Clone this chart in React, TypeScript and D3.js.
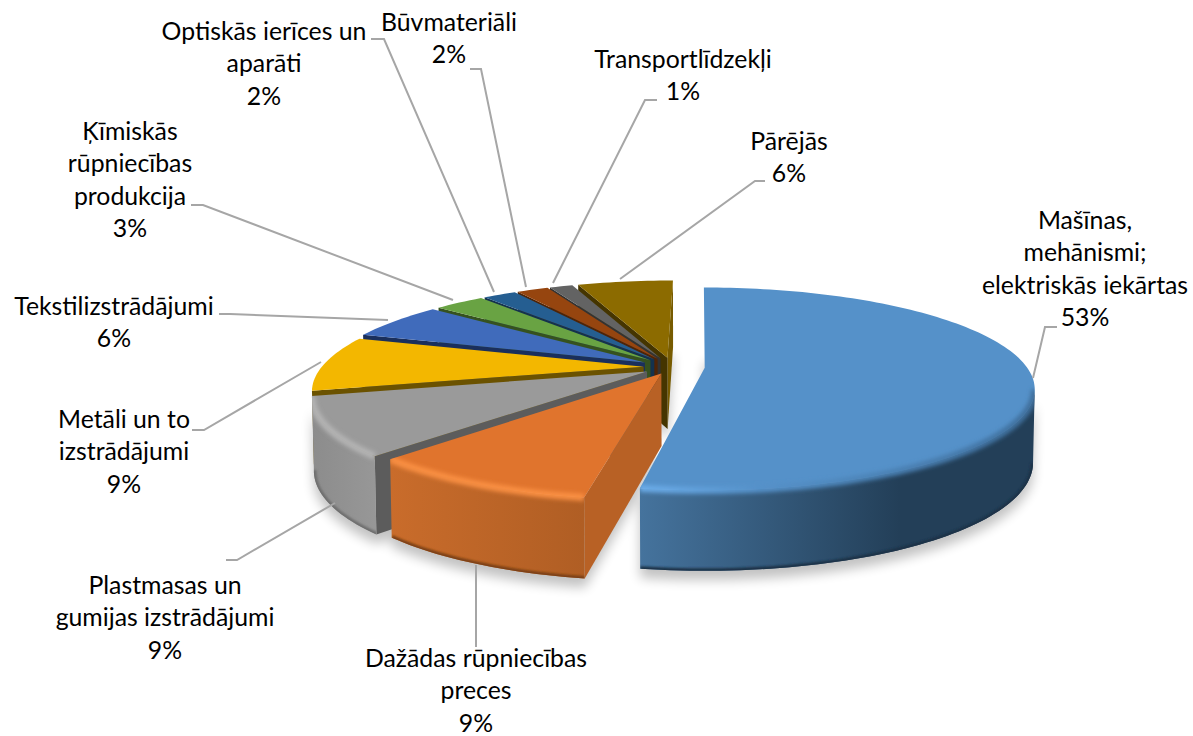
import React from "react";
import * as d3 from "d3";

const categories = [
  "Mašīnas, mehānismi; elektriskās iekārtas",
  "Dažādas rūpniecības preces",
  "Plastmasas un gumijas izstrādājumi",
  "Metāli un to izstrādājumi",
  "Tekstilizstrādājumi",
  "Ķīmiskās rūpniecības produkcija",
  "Optiskās ierīces un aparāti",
  "Būvmateriāli",
  "Transportlīdzekļi",
  "Pārējās",
];
// shares, the labels round them
const shares = [0.526, 0.094, 0.092, 0.088, 0.059, 0.03, 0.02, 0.019, 0.014, 0.058];
const explodes = [0.1, 0.075, 0.09, 0.09, 0.1, 0.1, 0.1, 0.1, 0.1, 0.1];

const topColors = ["#5591c9", "#e0742d", "#9a9a9a", "#f3b700", "#406bbb", "#69a343", "#255e91", "#96450f", "#636363", "#8c6b00"];
const edgeColors = ["#2f5578", "#b86125", "#5c5c5c", "#6b5200", "#1a2f5c", "#36521f", "#14324e", "#4f2406", "#333333", "#453500"];
const wallStops = [
  ["#45739d", "#233f58"],
  ["#c96c2b", "#b05e24"],
  ["#8c8c8c", "#979797"],
  ["#f0b400", "#d9a200"],
  ["#37609f", "#37609f"],
  ["#5a8c39", "#5a8c39"],
  ["#1f4f7a", "#1f4f7a"],
  ["#803b0c", "#803b0c"],
  ["#555555", "#555555"],
  ["#775b00", "#775b00"],
];
const bevelColors = ["#6cadea", "#f98f43", "#b4b4b4", "#ffc819", "#4f7fd6", "#7bbd4e", "#2f74b0", "#b5540f", "#7a7a7a", "#a88000"];
const bottomColors = ["#1c3247", "#7a3f12", "#6e6e6e", "#8a6a00", "#1a2f5c", "#36521f", "#14324e", "#4f2406", "#333333", "#453500"];

const labelLines = [
  ["Mašīnas,", "mehānismi;", "elektriskās iekārtas"],
  ["Dažādas rūpniecības", "preces"],
  ["Plastmasas un", "gumijas izstrādājumi"],
  ["Metāli un to", "izstrādājumi"],
  ["Tekstilizstrādājumi"],
  ["Ķīmiskās", "rūpniecības", "produkcija"],
  ["Optiskās ierīces un", "aparāti"],
  ["Būvmateriāli"],
  ["Transportlīdzekļi"],
  ["Pārējās"],
];
const labelX = [1085, 476, 165, 124, 114, 130, 264, 449, 683, 789];
const labelY = [221, 659, 586, 420, 307, 132, 32, 23, 60, 142];
const leaders = [
  [[1033, 378], [1045, 327], [1057, 327]],
  [[476, 565], [476, 647]],
  [[335, 503], [237, 560], [226, 560]],
  [[321, 362], [204, 430], [192, 430]],
  [[388, 320], [230, 314], [219, 314]],
  [[453, 300], [203, 205], [191, 205]],
  [[494, 292], [384, 39], [371, 39]],
  [[526, 287], [481, 69], [470, 69]],
  [[553, 283], [645, 100], [657, 100]],
  [[620, 279], [755, 181], [765, 181]],
];

const width = 1193, height = 736;
// vx is where the radial edges vanish, cx the pie centre on screen
const vx = 700, cx = 672.6, cy = 367, rx = 322, ry = 96.7, persp = 0.208;
const lineStep = 32.4, fontSize = 24.8;

const pct = d3.format(".0%");
const pie = d3.pie<number>().sort(null).value(d => d);
const arcs = pie(shares);
const pathOf = d3.line();

type Pt = [number, number];

function top(i: number, mid: number, r: number, a: number): Pt {
  const e = explodes[i];
  const u = e * Math.sin(mid) + r * Math.sin(a) + (cx - vx) / rx;
  const v = e * Math.cos(mid) + r * Math.cos(a);
  const w = 1 + persp * v;
  return [vx + rx * u / w, cy - ry * v / w];
}

function drop(i: number, mid: number, r: number, a: number): Pt {
  const v = explodes[i] * Math.cos(mid) + r * Math.cos(a);
  const w = 1 + persp * v;
  const [x, y] = top(i, mid, r, a);
  return [vx + (x - vx) * 0.995, y + 40 + 32 / w];
}

function rim(f: typeof top, i: number, mid: number, a0: number, a1: number): Pt[] {
  const n = Math.max(2, Math.ceil((a1 - a0) * 40));
  return d3.range(n + 1).map(k => f(i, mid, 1, a0 + (a1 - a0) * k / n));
}

export default function App() {
  const slices = arcs.map((d, i) => {
    const mid = (d.startAngle + d.endAngle) / 2;
    const a0 = d.startAngle, a1 = d.endAngle;
    const apex = top(i, mid, 0, 0), apexB = drop(i, mid, 0, 0);
    const rimTop = rim(top, i, mid, a0, a1);
    const rimBot = rim(drop, i, mid, a0, a1);
    // only the part of the rim that runs right to left faces the viewer
    const from = d3.greatestIndex(rimTop, p => p[0]);
    const to = d3.leastIndex(rimTop, p => p[0]);
    const hasFront = to > from;
    const frontTop = rimTop.slice(from, to + 1);
    const frontBot = rimBot.slice(from, to + 1);
    return {
      i, mid, a0, a1,
      topPath: pathOf([apex, ...rimTop])! + "Z",
      startWall: pathOf([apex, top(i, mid, 1, a0), drop(i, mid, 1, a0), apexB])! + "Z",
      endWall: pathOf([apex, top(i, mid, 1, a1), drop(i, mid, 1, a1), apexB])! + "Z",
      outerPath: hasFront ? pathOf([...frontTop, ...frontBot.slice().reverse()])! + "Z" : null,
      footprint: pathOf([apexB, ...rimBot])! + "Z",
      frontTop: hasFront ? pathOf(frontTop) : null,
      frontBot: hasFront ? pathOf(frontBot) : null,
      xMin: d3.min(rimTop, p => p[0])!,
      xMax: d3.max(rimTop, p => p[0])!,
    };
  });
  const backToFront = slices.slice().reverse();
  const lastIndex = slices.length - 1;

  return (
    <svg width={width} height={height} style={{ position: "absolute", left: 0, top: 0 }}
      fontFamily="Lato, 'Open Sans', sans-serif">
      <defs>
        <filter id="shadow" x="-20%" y="-20%" width="140%" height="140%"><feGaussianBlur stdDeviation="6" /></filter>
        <filter id="soft" x="-10%" y="-30%" width="120%" height="160%"><feGaussianBlur stdDeviation="2" /></filter>
        <filter id="softer" x="-10%" y="-30%" width="120%" height="160%"><feGaussianBlur stdDeviation="1" /></filter>
        {slices.map(s => (
          <React.Fragment key={s.i}>
            <linearGradient id={`wall${s.i}`} gradientUnits="userSpaceOnUse" x1={s.xMin} x2={s.i === 0 ? 900 : s.xMax} y1={0} y2={0}>
              <stop offset="0" stopColor={wallStops[s.i][0]} />
              <stop offset="1" stopColor={wallStops[s.i][1]} />
            </linearGradient>
            <linearGradient id={`bevel${s.i}`} gradientUnits="userSpaceOnUse" x1={s.xMin} x2={s.xMax} y1={0} y2={0}>
              <stop offset="0" stopColor={bevelColors[s.i]} />
              <stop offset={s.i === 0 ? 0.3 : 0.8} stopColor={s.i === 0 ? topColors[0] : bevelColors[s.i]} />
              <stop offset="1" stopColor={s.i === 0 ? "#3f6f9c" : bevelColors[s.i]} />
            </linearGradient>
            <clipPath id={`clip${s.i}`}>
              {s.outerPath && <path d={s.outerPath} />}
              <path d={s.topPath} />
            </clipPath>
          </React.Fragment>
        ))}
      </defs>

      {/* soft shadow under the pie */}
      <g filter="url(#shadow)" transform="translate(0,9)" opacity={0.24}>
        {slices.map(s => <path key={s.i} d={s.footprint} fill="#000" />)}
        {slices.map(s => s.outerPath && <path key={s.i} d={s.outerPath} fill="#000" />)}
      </g>

      {backToFront.map(s => (
        <g key={s.i}>
          {s.i === lastIndex && <path d={s.endWall} fill={wallStops[s.i][0]} />}
          {s.i > 0 && <path d={s.startWall} fill={edgeColors[s.i]} />}
          {s.outerPath && <path d={s.outerPath} fill={`url(#wall${s.i})`} />}
          <path d={s.topPath} fill={topColors[s.i]} />
          {s.frontTop && (
            <g clipPath={`url(#clip${s.i})`}>
              <path d={s.frontBot!} fill="none" stroke={bottomColors[s.i]} strokeWidth={5} filter="url(#softer)" />
              <path d={s.frontTop} fill="none" stroke={`url(#bevel${s.i})`} strokeWidth={7} filter="url(#soft)" />
            </g>
          )}
        </g>
      ))}

      {leaders.map((pts, i) => (
        <polyline key={i} points={pts.join(" ")} fill="none" stroke="#a6a6a6" strokeWidth={2} />
      ))}

      {categories.map((name, i) => (
        <text key={name} textAnchor="middle" fontSize={fontSize} fill="#000">
          {[...labelLines[i], pct(shares[i])].map((line, k) => (
            <tspan key={k} x={labelX[i]} y={labelY[i] + 8 + k * lineStep}>{line}</tspan>
          ))}
        </text>
      ))}
    </svg>
  );
}
